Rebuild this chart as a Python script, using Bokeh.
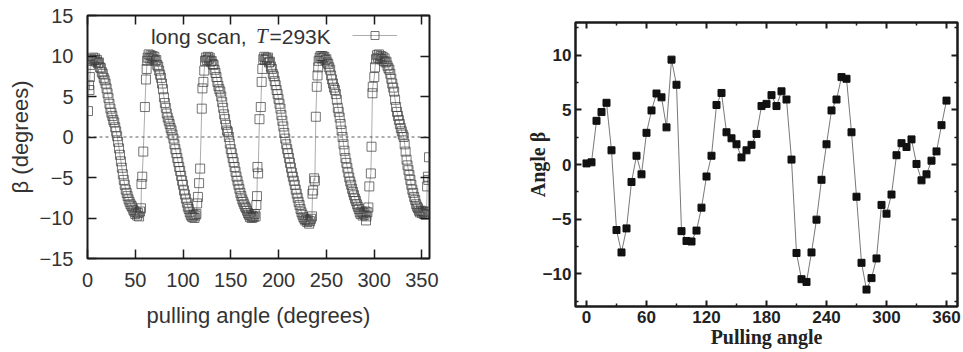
from bokeh.plotting import figure
from bokeh.models import Range1d, FixedTicker, LinearAxis, Span, Label, Legend, LegendItem
from bokeh.layouts import row
from bokeh.embed import file_html
from bokeh.resources import INLINE

# ---------------- left panel data: long scan, T=293K ----------------
c0_angle = [0.5, 1.5, 2, 2.5, 3, 4, 5, 6, 7, 8, 9, 10, 11, 12, 13, 14, 15, 16, 17, 18,
            19, 20, 21, 22, 23, 24, 25, 26, 27, 28, 29, 30, 31, 32, 33, 34, 35, 36, 37, 38,
            39, 40, 41, 42, 43, 44, 45, 46, 47, 48, 49, 50, 51, 52, 53, 54, 55, 56]
c0_beta = [3.2, 6.4, 5.8, 7.4, 8.9, 9.6, 9.4, 9.8, 9.5, 9.7, 9.3, 9.5, 9.1, 9.2, 8.6, 8.5, 8.0, 7.8, 7.3, 7.0,
           6.6, 6.0, 5.4, 4.8, 4.1, 3.5, 3.0, 2.6, 2.1, 1.8, 1.2, 0.7, 0.1, -0.6, -1.4, -2.2, -3.0, -3.8, -4.6, -5.3,
           -5.9, -6.5, -6.9, -7.3, -7.7, -8.0, -8.3, -8.5, -8.7, -9.0, -9.2, -9.5, -9.3, -9.7, -9.4, -9.8, -9.2, -8.8]
j1_angle = [56.5, 57.3, 58.4, 60.1, 61.2, 61.9, 62.5]
j1_beta = [-5.8, -4.9, -1.8, 3.7, 7.1, 8.4, 9.4]
c1_angle = [63, 64, 65, 66, 67, 68, 69, 70, 71, 72, 73, 74, 75, 76, 77, 78, 79, 80, 81, 82,
            83, 84, 85, 86, 87, 88, 89, 90, 91, 92, 93, 94, 95, 96, 97, 98, 99, 100, 101, 102,
            103, 104, 105, 106, 107, 108, 109, 110, 111, 112, 113, 114]
c1_beta = [9.8, 10.2, 9.7, 10.1, 9.8, 10.0, 9.6, 9.9, 9.4, 9.5, 8.9, 8.7, 8.2, 7.7, 7.3, 6.6, 5.9, 4.9, 4.2, 3.6,
           2.9, 2.4, 2.0, 1.6, 1.1, 0.8, 0.3, -0.2, -0.9, -1.5, -2.0, -2.6, -3.1, -3.7, -4.2, -4.8, -5.4, -5.9, -6.6, -7.1,
           -7.6, -8.1, -8.6, -8.9, -9.3, -9.6, -9.8, -9.9, -9.6, -10.0, -9.7, -9.5]
j2_angle = [114.8, 115.6, 116.8, 117.9, 119.6, 120.3, 121.3, 122.2]
j2_beta = [-8.2, -7.4, -5.7, -3.9, 3.5, 6.0, 6.8, 8.2]
c2_angle = [123, 124, 125, 126, 127, 128, 129, 130, 131, 132, 133, 134, 135, 136, 137, 138, 139, 140, 141, 142,
            143, 144, 145, 146, 147, 148, 149, 150, 151, 152, 153, 154, 155, 156, 157, 158, 159, 160, 161, 162,
            163, 164, 165, 166, 167, 168, 169, 170, 171, 172, 173, 174, 175, 176]
c2_beta = [9.4, 9.8, 9.5, 9.9, 9.6, 9.8, 9.3, 9.4, 9.0, 8.9, 8.3, 7.9, 7.4, 6.8, 6.3, 5.9, 5.6, 5.0, 4.3, 3.6,
           2.8, 2.2, 1.5, 0.8, 0.6, 0.0, -0.8, -1.5, -2.0, -2.6, -3.1, -3.7, -4.3, -4.9, -5.4, -5.9, -6.4, -6.9, -7.3, -7.7,
           -8.0, -8.3, -8.6, -8.8, -9.1, -9.4, -9.6, -9.9, -9.7, -10.0, -9.8, -9.9, -9.5, -9.8]
j3_angle = [176.8, 177.4, 177.9, 178.6, 180.0, 181.4, 182.3, 183.0]
j3_beta = [-8.4, -7.3, -3.7, -4.5, 2.2, 3.7, 6.8, 8.4]
c3_angle = [184, 185, 186, 187, 188, 189, 190, 191, 192, 193, 194, 195, 196, 197, 198, 199, 200, 201, 202, 203,
            204, 205, 206, 207, 208, 209, 210, 211, 212, 213, 214, 215, 216, 217, 218, 219, 220, 221, 222, 223,
            224, 225, 226, 227, 228, 229, 230, 231, 232, 233, 234, 235]
c3_beta = [9.6, 9.9, 9.5, 9.8, 9.6, 9.8, 9.2, 9.3, 8.7, 8.4, 7.8, 7.5, 6.9, 6.4, 5.8, 5.3, 4.7, 4.1, 3.5, 2.7,
           2.0, 1.3, 0.5, -0.2, -0.9, -1.5, -2.0, -2.6, -3.2, -3.8, -4.4, -4.9, -5.4, -5.9, -6.5, -7.0, -7.5, -8.0, -8.4, -8.9,
           -9.3, -9.6, -9.9, -10.1, -10.3, -10.2, -10.5, -10.3, -10.7, -10.4, -10.1, -9.8]
j4_angle = [235.5, 236.2, 237.2, 238.0, 239.0, 240.0, 240.8, 241.5]
j4_beta = [-7.0, -6.6, -5.1, -5.4, 2.5, 6.2, 7.6, 8.6]
c4_angle = [242, 243, 244, 245, 246, 247, 248, 249, 250, 251, 252, 253, 254, 255, 256, 257, 258, 259, 260, 261,
            262, 263, 264, 265, 266, 267, 268, 269, 270, 271, 272, 273, 274, 275, 276, 277, 278, 279, 280, 281,
            282, 283, 284, 285, 286, 287, 288, 289, 290, 291, 291.5, 292, 293]
c4_beta = [9.4, 9.8, 10.0, 9.7, 10.0, 9.8, 9.9, 9.5, 9.6, 9.2, 9.0, 8.6, 8.3, 7.6, 7.1, 6.6, 6.1, 5.8, 5.3, 4.6,
           3.6, 3.1, 2.4, 1.6, 0.8, 0.0, -0.9, -1.7, -2.6, -3.2, -3.8, -4.4, -5.0, -5.5, -5.9, -6.4, -6.8, -7.2, -7.6, -7.9,
           -8.3, -8.6, -8.9, -9.3, -9.5, -9.2, -9.7, -9.4, -9.6, -9.2, -10.3, -9.8, -9.3]
j5_angle = [294.0, 295.0, 296.6, 297.3, 298.3, 298.6, 300.2, 301.0]
j5_beta = [-8.7, -6.1, -4.5, -1.2, 5.4, 6.2, 7.4, 8.6]
c5_angle = [302, 303, 304, 305, 306, 307, 308, 309, 310, 311, 312, 313, 314, 315, 316, 317, 318, 319, 320, 321,
            322, 323, 324, 325, 326, 327, 328, 329, 330, 331, 332, 333, 334, 335, 336, 337, 338, 339, 340, 341,
            342, 343, 344, 345, 346, 347, 348, 349, 350, 351, 352, 353, 354, 355,
            355.5, 356.3, 356.8, 357.5]
c5_beta = [9.6, 10.1, 9.8, 10.2, 9.7, 10.0, 9.6, 9.9, 9.4, 9.7, 9.2, 9.3, 8.8, 8.5, 8.3, 7.8, 7.2, 6.6, 6.1, 5.6,
           4.6, 3.7, 3.1, 2.6, 2.1, 1.6, 1.1, 0.7, 0.3, 0.0, -0.9, -1.8, -2.8, -3.5, -4.1, -4.7, -5.3, -5.9, -6.5, -6.9,
           -7.4, -7.8, -8.3, -8.6, -8.8, -9.1, -9.3, -9.1, -9.4, -9.2, -9.5, -9.3, -9.6, -9.2,
           -6.1, -4.9, -5.3, -2.5]

scan_angle = (c0_angle + j1_angle + c1_angle + j2_angle + c2_angle + j3_angle
              + c3_angle + j4_angle + c4_angle + j5_angle + c5_angle)
scan_beta = (c0_beta + j1_beta + c1_beta + j2_beta + c2_beta + j3_beta
             + c3_beta + j4_beta + c4_beta + j5_beta + c5_beta)

left_xticks = [0, 50, 100, 150, 200, 250, 300, 350]
left_yticks = [-15, -10, -5, 0, 5, 10, 15]

# ---------------- right panel data ----------------
pull_angle = [0, 5, 10, 15, 20, 25, 30, 35, 40, 45, 50, 55, 60, 65, 70, 75, 80, 85, 90, 95,
              100, 105, 110, 115, 120, 125, 130, 135, 140, 145, 150, 155, 160, 165, 170, 175, 180, 185, 190, 195,
              200, 205, 210, 215, 220, 225, 230, 235, 240, 245, 250, 255, 260, 265, 270, 275, 280, 285, 290, 295,
              300, 305, 310, 315, 320, 325, 330, 335, 340, 345, 350, 355, 360]
angle_beta = [0.1, 0.2, 4.0, 4.8, 5.65, 1.3, -6.0, -8.05, -5.85, -1.6, 0.8, -0.9, 2.9, 4.95, 6.5, 6.15, 3.4, 9.6, 7.3, -6.1,
              -7.0, -7.05, -6.05, -3.95, -1.1, 0.8, 5.45, 6.55, 2.95, 2.4, 1.85, 0.65, 1.3, 1.8, 2.8, 5.35, 5.55, 6.35, 5.35, 6.7,
              5.95, 0.45, -8.1, -10.5, -10.75, -8.05, -5.05, -1.4, 1.85, 4.95, 5.95, 8.0, 7.85, 2.95, -2.95, -9.0, -11.45, -10.4, -8.6, -3.7,
              -4.5, -2.75, 0.85, 1.95, 1.6, 2.3, 0.05, -1.45, -0.9, 0.35, 1.2, 3.6, 5.85]
right_xticks = [0, 60, 120, 180, 240, 300, 360]
right_xminor = [30, 90, 150, 210, 270, 330]
right_yticks = [-10, -5, 0, 5, 10]
right_yminor = [-12.5, -7.5, -2.5, 2.5, 7.5, 12.5]

# ---------------- left figure ----------------
LFONT = "Liberation Sans"
LCOL = "#333333"
p1 = figure(width=480, height=352, output_backend="svg", toolbar_location=None,
            x_range=Range1d(0, 358), y_range=Range1d(-15, 15),
            min_border_left=87, min_border_right=51, min_border_top=15, min_border_bottom=94)
p1.frame_align = False
p1.grid.visible = False
p1.outline_line_color = "#1a1a1a"
p1.outline_line_width = 2
p1.background_fill_color = "white"
p1.border_fill_color = "white"

p1.add_layout(Span(location=0, dimension="width", line_color="#333333",
                   line_width=0.8, line_dash="3 3"))

line_r = p1.line(scan_angle, scan_beta, line_color="#888888", line_width=0.7)
sq_r = p1.scatter(scan_angle, scan_beta, marker="square", size=9, fill_color=None,
                  line_color="#3a3a3a", line_alpha=0.7, line_width=1)

def style_left(ax, show):
    ax.axis_line_color = None
    ax.major_tick_in = 9
    ax.major_tick_out = 0
    ax.minor_tick_line_color = None
    ax.major_tick_line_color = "#1a1a1a"
    ax.major_tick_line_width = 1.5
    ax.major_label_text_font = LFONT
    ax.major_label_text_color = LCOL
    if show:
        ax.major_label_text_font_size = "20px"
    else:
        ax.major_label_text_font_size = "1px"
        ax.major_label_text_color = None
        ax.major_label_standoff = 0

p1.xaxis.ticker = FixedTicker(ticks=left_xticks)
p1.yaxis.ticker = FixedTicker(ticks=left_yticks)
for ax in p1.xaxis + p1.yaxis:
    style_left(ax, True)
p1.xaxis.major_label_standoff = 14
p1.yaxis.major_label_standoff = 14
p1.xaxis.axis_label = "pulling angle (degrees)"
p1.yaxis.axis_label = "β (degrees)"
for ax in p1.xaxis + p1.yaxis:
    ax.axis_label_text_font = LFONT
    ax.axis_label_text_font_size = "22px"
    ax.axis_label_text_font_style = "normal"
    ax.axis_label_text_color = LCOL
p1.xaxis.axis_label_standoff = 13
p1.yaxis.axis_label_standoff = 4

top1 = LinearAxis(ticker=FixedTicker(ticks=left_xticks))
right1 = LinearAxis(ticker=FixedTicker(ticks=left_yticks))
style_left(top1, False)
style_left(right1, False)
p1.add_layout(top1, "above")
p1.add_layout(right1, "right")

legend = Legend(items=[LegendItem(label=" ", renderers=[line_r, sq_r])],
                location=(265, 213), glyph_width=45, glyph_height=20,
                padding=0, margin=0, spacing=0, label_standoff=0,
                label_text_font_size="1px", border_line_color=None,
                background_fill_alpha=0)
p1.add_layout(legend)

LEG_Y = 12.45
p1.add_layout(Label(x=66.4, y=LEG_Y, text="long scan,", text_font=LFONT, text_font_size="21px",
                    text_color=LCOL, text_baseline="alphabetic", text_align="left"))
p1.add_layout(Label(x=176.5, y=LEG_Y, text="T", text_font="Liberation Serif", text_font_size="21px",
                    text_font_style="italic", text_color=LCOL, text_baseline="alphabetic", text_align="left"))
p1.add_layout(Label(x=190.5, y=LEG_Y, text="=293K", text_font=LFONT, text_font_size="21px",
                    text_color=LCOL, text_baseline="alphabetic", text_align="left"))

# ---------------- right figure ----------------
RCOL = "#222222"
p2 = figure(width=483, height=352, output_backend="svg", toolbar_location=None,
            x_range=Range1d(-11, 371), y_range=Range1d(-13, 13),
            min_border_left=95, min_border_right=6, min_border_top=22, min_border_bottom=46)
p2.frame_align = False
p2.grid.visible = False
p2.outline_line_color = "#1a1a1a"
p2.outline_line_width = 2.5
p2.background_fill_color = "white"
p2.border_fill_color = "white"

p2.line(pull_angle, angle_beta, line_color="#555555", line_width=0.8)
p2.scatter(pull_angle, angle_beta, marker="square", size=7, fill_color="#111111", line_color="#111111")

def style_right(ax, show):
    ax.axis_line_color = None
    ax.major_tick_in = 6
    ax.major_tick_out = 0
    ax.minor_tick_in = 3
    ax.minor_tick_out = 0
    ax.major_tick_line_color = "#1a1a1a"
    ax.minor_tick_line_color = "#1a1a1a"
    ax.major_tick_line_width = 2
    ax.minor_tick_line_width = 1.5
    ax.major_label_text_font = "Liberation Sans"
    ax.major_label_text_font_style = "bold"
    ax.major_label_text_color = RCOL
    if show:
        ax.major_label_text_font_size = "17px"
    else:
        ax.major_label_text_font_size = "1px"
        ax.major_label_text_color = None
        ax.major_label_standoff = 0

p2.xaxis.ticker = FixedTicker(ticks=right_xticks, minor_ticks=right_xminor)
p2.yaxis.ticker = FixedTicker(ticks=right_yticks, minor_ticks=right_yminor)
for ax in p2.xaxis + p2.yaxis:
    style_right(ax, True)
p2.xaxis.major_label_standoff = 4
p2.yaxis.major_label_standoff = 4
p2.xaxis.axis_label = "Pulling angle"
p2.yaxis.axis_label = "Angle β"
for ax in p2.xaxis + p2.yaxis:
    ax.axis_label_text_font = "Liberation Serif"
    ax.axis_label_text_font_size = "20px"
    ax.axis_label_text_font_style = "bold"
    ax.axis_label_text_color = RCOL
p2.xaxis.axis_label_standoff = 0
p2.yaxis.axis_label_standoff = -9

top2 = LinearAxis(ticker=FixedTicker(ticks=right_xticks, minor_ticks=right_xminor))
right2 = LinearAxis(ticker=FixedTicker(ticks=right_yticks, minor_ticks=right_yminor))
style_right(top2, False)
style_right(right2, False)
p2.add_layout(top2, "above")
p2.add_layout(right2, "right")

layout = row(p1, p2)
open("out.html", "w").write(file_html(layout, INLINE))
